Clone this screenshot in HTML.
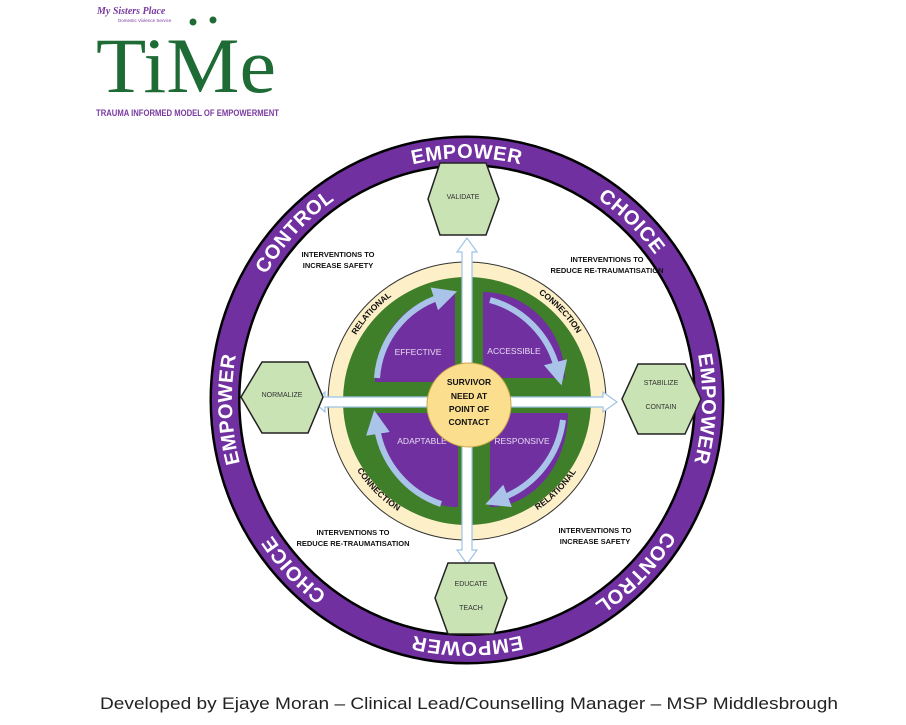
<!DOCTYPE html>
<html><head><meta charset="utf-8"><style>
html,body{margin:0;padding:0;background:#fff;width:906px;height:725px;overflow:hidden}
svg{display:block}
.r{font-family:"Liberation Sans",sans-serif;font-weight:bold;fill:#fff;font-size:20px;letter-spacing:1px}
.c{font-family:"Liberation Sans",sans-serif;font-weight:bold;fill:#111;font-size:8.5px}
.s{font-family:"Liberation Sans",sans-serif;font-weight:bold;fill:#111;font-size:7.5px}
.h{font-family:"Liberation Sans",sans-serif;fill:#333;font-size:7px}
.q{font-family:"Liberation Sans",sans-serif;fill:#e8dcf2;font-size:8.5px}
</style></head><body>
<svg width="906" height="725" viewBox="0 0 906 725" xmlns="http://www.w3.org/2000/svg">
<defs>
<path id="ring" d="M467,151 A242,249 0 1 1 467,649 A242,249 0 1 1 467,151 A242,249 0 1 1 467,649 A242,249 0 1 1 467,151"/>
<path id="cw" d="M467,269 A132,132 0 1 1 467,533 A132,132 0 1 1 467,269 A132,132 0 1 1 467,533 A132,132 0 1 1 467,269"/>
<path id="ccw" d="M467,274 A127,127 0 1 0 467,528 A127,127 0 1 0 467,274 A127,127 0 1 0 467,528 A127,127 0 1 0 467,274"/>
<marker id="ah" markerWidth="4" markerHeight="4" refX="1" refY="2" orient="auto" markerUnits="strokeWidth"><path d="M0,0 L4,2 L0,4 z" fill="#a9c4e8"/></marker>
</defs>

<!-- logo -->
<text x="97" y="14" font-family="Liberation Serif,serif" font-style="italic" font-weight="bold" font-size="10" fill="#7a3aa0">My Sisters Place</text>
<text x="118" y="22" font-family="Liberation Sans,sans-serif" font-size="4.5" fill="#7a3aa0">Domestic Violence Service</text>
<text x="96" y="92" font-family="Liberation Serif,serif" font-size="78" fill="#1e6b35" textLength="180" lengthAdjust="spacingAndGlyphs">TiMe</text>
<circle cx="193" cy="22" r="3.5" fill="#1e6b35"/><circle cx="213" cy="20" r="3.5" fill="#1e6b35"/>
<text x="96" y="116" font-family="Liberation Sans,sans-serif" font-weight="bold" font-size="9" fill="#7a3aa0" textLength="183" lengthAdjust="spacingAndGlyphs">TRAUMA INFORMED MODEL OF EMPOWERMENT</text>

<!-- outer ring -->
<ellipse cx="467" cy="400" rx="242" ry="249" fill="none" stroke="#000" stroke-width="31"/>
<ellipse cx="467" cy="400" rx="242" ry="249" fill="none" stroke="#7030a0" stroke-width="26"/>
<g class="r">
<text dy="7"><textPath href="#ring" startOffset="50%" text-anchor="middle">EMPOWER</textPath></text>
<text dy="7"><textPath href="#ring" startOffset="56%" text-anchor="middle">CHOICE</textPath></text>
<text dy="7"><textPath href="#ring" startOffset="62.8%" text-anchor="middle">EMPOWER</textPath></text>
<text dy="7"><textPath href="#ring" startOffset="68.8%" text-anchor="middle">CONTROL</textPath></text>
<text dy="7"><textPath href="#ring" startOffset="75%" text-anchor="middle">EMPOWER</textPath></text>
<text dy="7"><textPath href="#ring" startOffset="81.4%" text-anchor="middle">CHOICE</textPath></text>
<text dy="7"><textPath href="#ring" startOffset="87.2%" text-anchor="middle">EMPOWER</textPath></text>
<text dy="7"><textPath href="#ring" startOffset="93.6%" text-anchor="middle">CONTROL</textPath></text>
</g>

<!-- cream/green -->
<circle cx="467" cy="401" r="139" fill="#fdf0c8" stroke="#333" stroke-width="1"/>
<circle cx="467" cy="401" r="124" fill="#3f7f2a"/>
<g class="c">
<text dy="3"><textPath href="#cw" startOffset="93.4%" text-anchor="middle">RELATIONAL</textPath></text>
<text dy="3"><textPath href="#cw" startOffset="56.4%" text-anchor="middle">CONNECTION</textPath></text>
<text dy="3"><textPath href="#ccw" startOffset="68.75%" text-anchor="middle">CONNECTION</textPath></text>
<text dy="3"><textPath href="#ccw" startOffset="81.25%" text-anchor="middle">RELATIONAL</textPath></text>
</g>

<!-- quadrants -->
<g fill="#7030a0">
<path d="M455,382 L375,382 A80,88 0 0 1 455,294 Z"/>
<path d="M483,378 L483,292 A82,86 0 0 1 565,378 Z"/>
<path d="M458,413 L458,507 A82,94 0 0 1 376,413 Z"/>
<path d="M490,413 L568,413 A78,94 0 0 1 490,507 Z"/>
</g>
<g fill="none" stroke="#a9c4e8" stroke-width="6" marker-end="url(#ah)">
<path d="M377,378 A92,92 0 0 1 440,297"/>
<path d="M490,300 A95,95 0 0 1 557,368"/>
<path d="M563,420 A96,96 0 0 1 502,498"/>
<path d="M441,504 A96,96 0 0 1 377,428"/>
</g>
<g class="q">
<text x="418" y="355" text-anchor="middle">EFFECTIVE</text>
<text x="514" y="354" text-anchor="middle">ACCESSIBLE</text>
<text x="422" y="444" text-anchor="middle">ADAPTABLE</text>
<text x="522" y="444" text-anchor="middle">RESPONSIVE</text>
</g>

<!-- arrows -->
<g fill="#fff" stroke="#9dc3e6" stroke-width="1.2">
<path d="M462,398 L462,252 L457,252 L467,238 L477,252 L472,252 L472,398 Z"/>
<path d="M462,404 L462,550 L457,550 L467,564 L477,550 L472,550 L472,404 Z"/>
<path d="M470,397 L325,397 L325,392 L314,402 L325,412 L325,407 L470,407 Z"/>
<path d="M464,397 L603,397 L603,392 L617,402 L603,412 L603,407 L464,407 Z"/>
</g>
<circle cx="469" cy="405" r="42" fill="#fbdf8e" stroke="#c9a84a" stroke-width="1"/>
<g class="c" text-anchor="middle" font-size="9">
<text x="469" y="385">SURVIVOR</text>
<text x="469" y="399">NEED AT</text>
<text x="469" y="412">POINT OF</text>
<text x="469" y="425">CONTACT</text>
</g>

<!-- hexagons -->
<g fill="#c9e3b5" stroke="#222" stroke-width="1.5">
<polygon points="440,163 486,163 499,199 486,235 440,235 428,199"/>
<polygon points="262,362 308,362 323,397 308,433 262,433 241,397"/>
<polygon points="638,364 685,364 701,399 685,434 638,434 622,399"/>
<polygon points="448,563 494,563 507,598 494,634 448,634 435,598"/>
</g>
<g class="h" text-anchor="middle">
<text x="463" y="199">VALIDATE</text>
<text x="282" y="397">NORMALIZE</text>
<text x="661" y="385">STABILIZE</text>
<text x="661" y="409">CONTAIN</text>
<text x="471" y="586">EDUCATE</text>
<text x="471" y="610">TEACH</text>
</g>

<!-- intervention labels -->
<g class="s" text-anchor="middle">
<text x="338" y="257">INTERVENTIONS TO</text>
<text x="338" y="268">INCREASE SAFETY</text>
<text x="607" y="262">INTERVENTIONS TO</text>
<text x="607" y="273">REDUCE RE-TRAUMATISATION</text>
<text x="353" y="535">INTERVENTIONS TO</text>
<text x="353" y="546">REDUCE RE-TRAUMATISATION</text>
<text x="595" y="533">INTERVENTIONS TO</text>
<text x="595" y="544">INCREASE SAFETY</text>
</g>

<text x="100" y="709" font-family="Liberation Sans,sans-serif" font-size="17" fill="#222" textLength="738" lengthAdjust="spacingAndGlyphs">Developed by Ejaye Moran – Clinical Lead/Counselling Manager – MSP Middlesbrough</text>
</svg>
</body></html>
